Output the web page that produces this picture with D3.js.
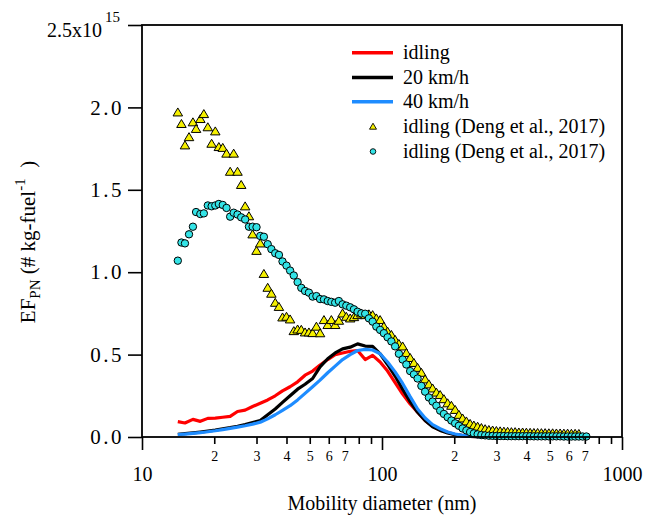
<!DOCTYPE html>
<html><head><meta charset="utf-8">
<script src="https://cdn.jsdelivr.net/npm/d3@7"></script>
<style>
body{margin:0;background:#fff}
</style>
</head><body>
<svg id="chart" width="646" height="515"></svg>
<script>
// SMPS channel mid-point diameters (nm)
const diameters = [
 14.1, 14.6, 15.1, 15.7, 16.3, 16.8, 17.5, 18.1, 18.8, 19.5,
 20.2, 20.9, 21.7, 22.5, 23.3, 24.1, 25.0, 25.9, 26.9, 27.9,
 28.9, 30.0, 31.1, 32.2, 33.4, 34.6, 35.9, 37.2, 38.5, 40.0,
 41.4, 42.9, 44.5, 46.1, 47.8, 49.6, 51.4, 53.3, 55.2, 57.3,
 59.4, 61.5, 63.8, 66.1, 68.5, 71.0, 73.7, 76.4, 79.1, 82.0,
 85.1, 88.2, 91.4, 94.7, 98.2, 101.8, 105.5, 109.4, 113.4, 117.6,
 121.9, 126.3, 131.0, 135.8, 140.7, 145.9, 151.2, 156.8, 162.5, 168.5,
 174.7, 181.1, 187.7, 194.6, 201.7, 209.1, 216.7, 224.7, 232.9, 241.4,
 250.3, 259.5, 269.0, 278.8, 289.0, 299.6, 310.6, 322.0, 333.8, 346.0,
 358.7, 371.8, 385.4, 399.5, 414.2, 429.4, 445.1, 461.4, 478.3, 495.8,
 514.0, 532.8, 552.3, 572.5, 593.5, 615.3, 637.8, 661.2, 685.4, 710.5
];
// Deng et al. 2017, idling (triangles), x10^15 # kg-fuel^-1
const dengTriangles = [
 1.97, 1.90, 1.77, 1.82, 1.91, 1.87, 1.93, 1.96, 1.88, 1.78,
 1.855, 1.76, 1.755, 1.72, 1.61, 1.72, 1.61, 1.53, 1.40, 1.34,
 1.23, 1.13, 1.175, 0.99, 0.906, 0.87, 0.815, 0.79, 0.726, 0.73,
 0.714, 0.643, 0.653, 0.651, 0.635, 0.635, 0.631, 0.67, 0.63, 0.71,
 0.68, 0.71, 0.68, 0.706, 0.75, 0.73, 0.72, 0.728, 0.74, 0.75,
 0.74, 0.745, 0.74, 0.72, 0.71, 0.67, 0.64, 0.62, 0.59, 0.565,
 0.55, 0.51, 0.48, 0.45, 0.42, 0.39, 0.35, 0.32, 0.295, 0.27,
 0.255, 0.23, 0.205, 0.19, 0.165, 0.135, 0.113, 0.095, 0.08, 0.07,
 0.063, 0.055, 0.048, 0.043, 0.04, 0.037, 0.035, 0.033, 0.032, 0.03,
 0.03, 0.028, 0.028, 0.027, 0.026, 0.025, 0.025, 0.024, 0.024, 0.023,
 0.023, 0.022, 0.022, 0.021, 0.021, 0.02, 0.02, 0.019
];
// Deng et al. 2017, idling (circles)
const dengCircles = [
 1.07, 1.18, 1.175, 1.23, 1.276, 1.365, 1.353, 1.357, 1.405, 1.40,
 1.405, 1.414, 1.408, 1.39, 1.337, 1.361, 1.35, 1.333, 1.32, 1.276,
 1.276, 1.273, 1.22, 1.215, 1.17, 1.14, 1.115, 1.105, 1.065, 1.04,
 1.01, 0.98, 0.94, 0.905, 0.886, 0.876, 0.852, 0.855, 0.837, 0.835,
 0.825, 0.82, 0.815, 0.825, 0.805, 0.797, 0.787, 0.775, 0.76, 0.75,
 0.748, 0.72, 0.70, 0.67, 0.65, 0.63, 0.605, 0.58, 0.55, 0.505,
 0.47, 0.44, 0.40, 0.38, 0.355, 0.31, 0.275, 0.24, 0.215, 0.19,
 0.16, 0.14, 0.12, 0.10, 0.083, 0.068, 0.052, 0.04, 0.03, 0.022,
 0.016, 0.012, 0.01, 0.008, 0.007, 0.006, 0.006, 0.006, 0.005, 0.005,
 0.005, 0.005, 0.005, 0.005, 0.005, 0.004, 0.004, 0.004, 0.004, 0.004,
 0.004, 0.004, 0.004, 0.003, 0.003, 0.003, 0.003, 0.003, 0.003, 0.003
];
// Measured lines
const lineDiameters = [
 14.1, 15.1, 16.3, 17.5, 18.8, 20.2, 21.7, 23.3, 25.0, 26.9,
 28.9, 31.1, 33.4, 35.9, 38.5, 41.4, 44.5, 47.8, 51.4, 55.2,
 59.4, 63.8, 68.5, 73.7, 79.1, 85.1, 91.4, 98.2, 105.5, 113.4,
 121.9, 131.0, 140.7, 151.2, 162.5, 174.7, 187.7, 201.7, 216.7, 232.9,
 250.3, 269.0, 289.0, 310.6
];
const idling = [
 0.093, 0.085, 0.107, 0.095, 0.113, 0.115, 0.12, 0.125, 0.155, 0.163,
 0.185, 0.205, 0.225, 0.25, 0.28, 0.305, 0.335, 0.375, 0.40, 0.437,
 0.47, 0.50, 0.51, 0.52, 0.525, 0.47, 0.495, 0.455, 0.40, 0.33,
 0.26, 0.20, 0.15, 0.10, 0.065, 0.042, 0.028, 0.015, 0.008, 0.004,
 0.002, 0.001, 0, 0
];
const speed20 = [
 0.016, 0.02, 0.025, 0.03, 0.036, 0.042, 0.05, 0.057, 0.065, 0.075,
 0.087, 0.10, 0.135, 0.17, 0.21, 0.25, 0.29, 0.32, 0.355, 0.425,
 0.475, 0.51, 0.535, 0.545, 0.565, 0.552, 0.55, 0.505, 0.44, 0.37,
 0.29, 0.215, 0.15, 0.10, 0.062, 0.04, 0.024, 0.014, 0.008, 0.004,
 0.002, 0.001, 0, 0
];
const speed40 = [
 0.015, 0.018, 0.022, 0.026, 0.032, 0.038, 0.045, 0.052, 0.06, 0.068,
 0.078, 0.09, 0.11, 0.135, 0.162, 0.19, 0.225, 0.265, 0.305, 0.345,
 0.39, 0.43, 0.47, 0.50, 0.525, 0.532, 0.528, 0.505, 0.455, 0.395,
 0.325, 0.245, 0.17, 0.115, 0.075, 0.05, 0.03, 0.018, 0.01, 0.005,
 0.002, 0.001, 0, 0
];
const xMajorTicks = [10, 100, 1000];
const xMinorTicks = [20, 30, 40, 50, 60, 70, 80, 90, 200, 300, 400, 500, 600, 700, 800, 900];
const yTicks = [0, 0.5, 1.0, 1.5, 2.0, 2.5];
const legendLabels = ["idling", "20 km/h", "40 km/h", "idling (Deng et al., 2017)", "idling (Deng et al., 2017)"];

const FONT = "'Liberation Serif', 'DejaVu Serif', 'Times New Roman', Times, serif";
const svg = d3.select("#chart");
const L = 142, R = 622, T = 25, B = 437;
const x = d3.scaleLog().domain([10, 1000]).range([L, R]);
const y = d3.scaleLinear().domain([0, 2.5]).range([B, T]);

const colors = {idling: "#ff0000", s20: "#000000", s40: "#1e8cff", tri: "#f5f000", circ: "#33e3e6"};

// lines
const lineGen = d3.line().x(d => x(d[0])).y(d => y(d[1]));
[[idling, colors.idling], [speed20, colors.s20], [speed40, colors.s40]].forEach(([vals, c]) => {
  svg.append("path")
    .datum(lineDiameters.map((d, i) => [d, vals[i]]))
    .attr("d", lineGen).attr("fill", "none").attr("stroke", c)
    .attr("stroke-width", 3.2).attr("stroke-linejoin", "round");
});

const triPath = (w, h) => `M0,${-h*0.55}L${w/2},${h*0.45}L${-w/2},${h*0.45}Z`;

// triangles
svg.append("g").selectAll("path").data(dengTriangles.map((v, i) => [diameters[i], v]))
  .join("path")
  .attr("transform", d => `translate(${x(d[0])},${y(d[1])})`)
  .attr("d", triPath(9.5, 8))
  .attr("fill", colors.tri).attr("stroke", "#000").attr("stroke-width", 1);

// circles
svg.append("g").selectAll("circle").data(dengCircles.map((v, i) => [diameters[i], v]))
  .join("circle")
  .attr("cx", d => x(d[0])).attr("cy", d => y(d[1])).attr("r", 3.7)
  .attr("fill", colors.circ).attr("stroke", "#000").attr("stroke-width", 1);

// axes
const xMajor = d3.axisBottom(x).tickValues(xMajorTicks).tickSize(13).tickPadding(17)
  .tickFormat(d3.format("d"));
const gxM = svg.append("g").attr("transform", `translate(0,${B})`).call(xMajor);
gxM.selectAll("text").style("font-size", "20px");

const xMinor = d3.axisBottom(x).tickValues(xMinorTicks).tickSize(7).tickPadding(7)
  .tickFormat(d => { const m = d / Math.pow(10, Math.floor(Math.log10(d) + 1e-9)); return m <= 7 ? String(Math.round(m)) : ""; });
const gxm = svg.append("g").attr("transform", `translate(0,${B})`).call(xMinor);
gxm.selectAll("text").style("font-size", "14px");

const yAxis = d3.axisLeft(y).tickValues(yTicks).tickSize(14).tickPadding(4)
  .tickFormat(d => d === 2.5 ? "" : d3.format(".1f")(d));
const gy = svg.append("g").attr("transform", `translate(${L},0)`).call(yAxis);
gy.selectAll("text").style("font-size", "21px").style("letter-spacing", "2.5px");

[gxM, gxm, gy].forEach(g => {
  g.select(".domain").remove();
  g.selectAll("line").attr("stroke", "#000").attr("stroke-width", 1.6);
  g.attr("font-family", FONT);
});

// frame
svg.append("rect").attr("x", L).attr("y", T).attr("width", R - L).attr("height", B - T)
  .attr("fill", "none").attr("stroke", "#000").attr("stroke-width", 1.8);

// top label 2.5x10^15
svg.append("text").attr("x", 102).attr("y", 37).attr("text-anchor", "end").style("font-size", "20px")
  .text("2.5x10");
svg.append("text").attr("x", 105).attr("y", 22).style("font-size", "15px").text("15");

// axis titles
svg.append("text").attr("x", 382).attr("y", 510).attr("text-anchor", "middle").style("font-size", "20px")
  .text("Mobility diameter (nm)");

const yl = svg.append("text").attr("transform", "translate(35,242) rotate(-90)")
  .attr("text-anchor", "middle").style("font-size", "21px").attr("xml:space", "preserve");
yl.append("tspan").text("EF");
yl.append("tspan").attr("dy", 5).style("font-size", "15px").text("PN");
yl.append("tspan").attr("dy", -5).text(" (# kg-fuel");
yl.append("tspan").attr("dy", -10).style("font-size", "15px").text("-1");
yl.append("tspan").attr("dy", 10).text("\u00a0\u00a0)");

// legend
const lg = svg.append("g");
const rows = [52.7, 77.5, 101.7, 126.5, 151.5];
const lineColors = [colors.idling, colors.s20, colors.s40];
lineColors.forEach((c, i) => {
  lg.append("line").attr("x1", 352).attr("x2", 393).attr("y1", rows[i]).attr("y2", rows[i])
    .attr("stroke", c).attr("stroke-width", 3.5);
});
lg.append("path").attr("transform", `translate(373,${rows[3]})`).attr("d", triPath(7, 6))
  .attr("fill", colors.tri).attr("stroke", "#000").attr("stroke-width", 0.9);
lg.append("circle").attr("cx", 373).attr("cy", rows[4]).attr("r", 2.8)
  .attr("fill", colors.circ).attr("stroke", "#000").attr("stroke-width", 0.9);
legendLabels.forEach((t, i) => {
  lg.append("text").attr("x", 403).attr("y", rows[i] + 6.5).style("font-size", "20px").text(t);
});

svg.selectAll("text").style("font-family", FONT).style("fill", "#000");
</script>
</body></html>
